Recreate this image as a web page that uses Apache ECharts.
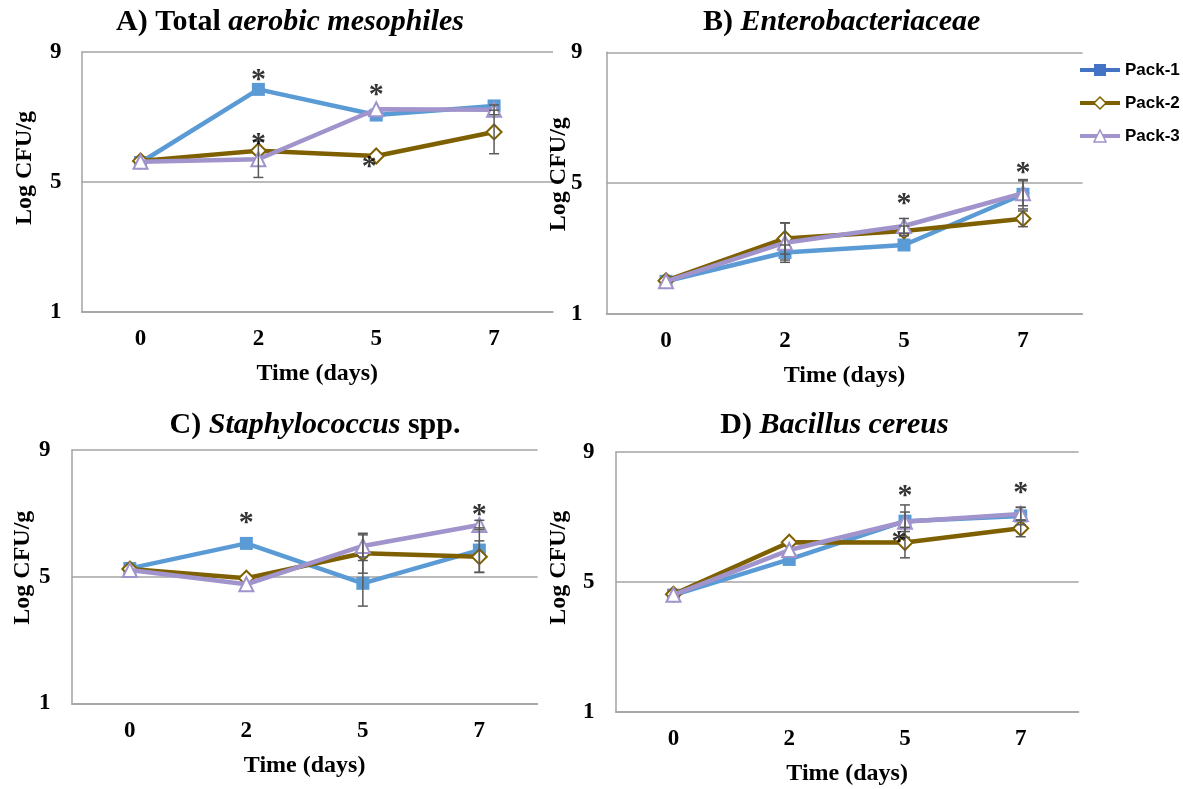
<!DOCTYPE html>
<html>
<head>
<meta charset="utf-8">
<script src="https://cdn.jsdelivr.net/npm/echarts@6/dist/echarts.min.js"></script>
<style>
  html, body { margin: 0; padding: 0; background: #fff; }
  #chart { width: 1183px; height: 789px; }
</style>
</head>
<body>
<div id="chart"></div>
<script>
// ---------------- data ----------------
const categories = ['0', '2', '5', '7'];
const seriesNames = ['Pack-1', 'Pack-2', 'Pack-3'];
const yTicks = [1, 5, 9];

// A) Total aerobic mesophiles
const aPack1 = [5.60, 7.85, 7.06, 7.34];
const aPack2 = [5.65, 5.96, 5.80, 6.54];
const aPack3 = [5.62, 5.70, 7.24, 7.22];
const aErr1 = [0, 0, 0, 0];
const aErr2 = [0, 0, 0, 0.67];
const aErr3 = [0, 0.56, 0, 0.15];
const aStars = [['2', 8.35], ['2', 6.38], ['5', 7.89], ['5', 5.68]];

// B) Enterobacteriaceae
const bPack1 = [2.00, 2.88, 3.11, 4.66];
const bPack2 = [2.02, 3.31, 3.54, 3.91];
const bPack3 = [2.00, 3.18, 3.69, 4.69];
const bErr1 = [0, 0.23, 0, 0.45];
const bErr2 = [0, 0.48, 0.15, 0.24];
const bErr3 = [0, 0.60, 0.23, 0.38];
const bStars = [['5', 4.58], ['7', 5.53]];

// C) Staphylococcus spp.
const cPack1 = [5.26, 6.05, 4.79, 5.84];
const cPack2 = [5.24, 4.95, 5.74, 5.63];
const cPack3 = [5.21, 4.76, 5.97, 6.63];
const cErr1 = [0, 0, 0.72, 0.70];
const cErr2 = [0, 0, 0.63, 0.50];
const cErr3 = [0, 0, 0.35, 0.15];
const cStars = [['2', 6.92], ['7', 7.16]];

// D) Bacillus cereus
const dPack1 = [4.59, 5.69, 6.87, 7.03];
const dPack2 = [4.62, 6.22, 6.21, 6.65];
const dPack3 = [4.60, 5.98, 6.85, 7.09];
const dErr1 = [0, 0, 0.50, 0.27];
const dErr2 = [0, 0, 0.47, 0.26];
const dErr3 = [0, 0, 0.30, 0.20];
const dStars = [['5', 7.85], ['5', 6.44], ['7', 7.93]];

const titles = [
  ['A) Total ', 'aerobic mesophiles', ''],
  ['B) ', 'Enterobacteriaceae', ''],
  ['C) ', 'Staphylococcus', ' spp.'],
  ['D) ', 'Bacillus cereus', '']
];
const yAxisTitle = 'Log CFU/g';
const xAxisTitle = 'Time (days)';

// ---------------- styling / layout ----------------
const SERIF = '"Liberation Serif", "Times New Roman", serif';
const SANS = '"Liberation Sans", Arial, sans-serif';
const GRID_COLOR = '#A3A3A3';
const ERR_COLOR = '#595959';
const colors = ['#5B9BD5', '#7F6000', '#A193CB'];
const legendColors = ['#4472C4', '#7F6000', '#A193CB'];

const panels = [
  { vals: [aPack1, aPack2, aPack3], errs: [aErr1, aErr2, aErr3], stars: aStars, nudge: {3: -7},
    grid: { left: 81.6, top: 52, width: 471.4, height: 260 }, yLabMargin: 20, yNameGap: 45, yNameUp: 14,
    title: { x: 290, y: 7 } },
  { vals: [bPack1, bPack2, bPack3], errs: [bErr1, bErr2, bErr3], stars: bStars, nudge: {},
    grid: { left: 606.5, top: 52.3, width: 476, height: 261.7 }, yLabMargin: 24, yNameGap: 36, yNameUp: 9,
    title: { x: 841.6, y: 7 } },
  { vals: [cPack1, cPack2, cPack3], errs: [cErr1, cErr2, cErr3], stars: cStars, nudge: {},
    grid: { left: 71.6, top: 450, width: 466, height: 253.3 }, yLabMargin: 21, yNameGap: 37, yNameUp: 9,
    title: { x: 315, y: 410 } },
  { vals: [dPack1, dPack2, dPack3], errs: [dErr1, dErr2, dErr3], stars: dStars, nudge: {1: -6},
    grid: { left: 615.6, top: 452, width: 463, height: 259.7 }, yLabMargin: 21, yNameGap: 45, yNameUp: 14,
    title: { x: 834.4, y: 410 } }
];

const seriesStyle = [
  { symbol: 'rect', symbolSize: 13, itemStyle: { color: colors[0], borderColor: colors[0], borderWidth: 0 } },
  { symbol: 'diamond', symbolSize: 15, itemStyle: { color: '#ffffff', borderColor: colors[1], borderWidth: 2 } },
  { symbol: 'triangle', symbolSize: 14, itemStyle: { color: '#ffffff', borderColor: colors[2], borderWidth: 2 } }
];

const option = {
  animation: false,
  backgroundColor: '#ffffff',
  title: [], grid: [], xAxis: [], yAxis: [], series: [],
  legend: {
    orient: 'vertical',
    left: 1078, top: 60,
    itemWidth: 40, itemHeight: 15, itemGap: 13,
    padding: 0,
    textStyle: { fontFamily: SANS, fontWeight: 'bold', fontSize: 17, color: '#000', lineHeight: 20 },
    data: seriesNames.map((n, i) => ({
      name: n,
      lineStyle: { color: legendColors[i], width: 4 },
      itemStyle: i === 0 ? { color: legendColors[0], borderColor: legendColors[0] } : { color: '#fff', borderColor: legendColors[i], borderWidth: 1.5 }
    }))
  }
};

panels.forEach((p, pi) => {
  const t = titles[pi];
  option.title.push({
    left: p.title.x, top: p.title.y, padding: 0,
    textAlign: 'center', textVerticalAlign: 'top',
    text: '{n|' + t[0] + '}{i|' + t[1] + '}' + (t[2] ? '{n|' + t[2] + '}' : ''),
    textStyle: {
      rich: {
        n: { fontFamily: SERIF, fontWeight: 'bold', fontSize: 30, color: '#000' },
        i: { fontFamily: SERIF, fontWeight: 'bold', fontStyle: 'italic', fontSize: 30, color: '#000' }
      }
    }
  });
  option.grid.push(Object.assign({ containLabel: false }, p.grid));
  option.xAxis.push({
    type: 'category', gridIndex: pi, data: categories, boundaryGap: true,
    axisLine: { show: true, lineStyle: { color: GRID_COLOR, width: 1.5 } },
    axisTick: { show: false },
    axisLabel: { margin: 16, fontFamily: SERIF, fontWeight: 'bold', fontSize: 23, color: '#000' },
    splitLine: { show: false },
    name: xAxisTitle, nameLocation: 'middle', nameGap: 50, nameMoveOverlap: false,
    nameTextStyle: { fontFamily: SERIF, fontWeight: 'bold', fontSize: 24, color: '#000' }
  });
  option.yAxis.push({
    type: 'value', gridIndex: pi, min: yTicks[0], max: yTicks[2], interval: yTicks[1] - yTicks[0],
    axisLine: { show: true, lineStyle: { color: GRID_COLOR, width: 1.5 } },
    axisTick: { show: false },
    axisLabel: { margin: p.yLabMargin, fontFamily: SERIF, fontWeight: 'bold', fontSize: 23, color: '#000' },
    splitLine: { show: true, lineStyle: { color: GRID_COLOR, width: 1.5 } },
    name: yAxisTitle, nameLocation: 'middle', nameGap: p.yNameGap, nameMoveOverlap: false,
    nameTextStyle: { fontFamily: SERIF, fontWeight: 'bold', fontSize: 24, color: '#000', padding: [0, 0, 0, 2 * p.yNameUp] }
  });
  // lines
  p.vals.forEach((vals, si) => {
    option.series.push(Object.assign({
      type: 'line', name: seriesNames[si], xAxisIndex: pi, yAxisIndex: pi,
      data: vals, showSymbol: true, z: 2 + si * 0.1,
      lineStyle: { color: colors[si], width: 4.5 }
    }, seriesStyle[si]));
  });
  // error bars
  p.vals.forEach((vals, si) => {
    option.series.push({
      type: 'custom', xAxisIndex: pi, yAxisIndex: pi, z: 4,
      data: vals.map((v, j) => [j, v, p.errs[si][j]]),
      encode: { x: 0, y: 1 },
      renderItem: (params, api) => {
        const x = api.value(0), v = api.value(1), e = api.value(2);
        if (!(e > 0)) return null;
        const top = api.coord([x, v + e]);
        const bot = api.coord([x, v - e]);
        const hw = 5;
        const st = { stroke: ERR_COLOR, lineWidth: 1.5 };
        return { type: 'group', children: [
          { type: 'line', shape: { x1: top[0], y1: top[1], x2: bot[0], y2: bot[1] }, style: st },
          { type: 'line', shape: { x1: top[0] - hw, y1: top[1], x2: top[0] + hw, y2: top[1] }, style: st },
          { type: 'line', shape: { x1: bot[0] - hw, y1: bot[1], x2: bot[0] + hw, y2: bot[1] }, style: st }
        ]};
      }
    });
  });
  // significance asterisks
  option.series.push({
    type: 'scatter', xAxisIndex: pi, yAxisIndex: pi, z: 6,
    symbol: 'circle', symbolSize: 2, itemStyle: { color: 'rgba(0,0,0,0)' },
    data: p.stars.map((s, k) => ({
      value: s,
      label: { offset: [p.nudge[k] || 0, 7] }
    })),
    label: { show: true, position: 'inside', formatter: '*', fontFamily: SERIF, fontWeight: 'bold', fontSize: 30, color: '#000' }
  });
});

const chart = echarts.init(document.getElementById('chart'), null, { renderer: 'canvas' });
chart.setOption(option);
</script>
</body>
</html>
